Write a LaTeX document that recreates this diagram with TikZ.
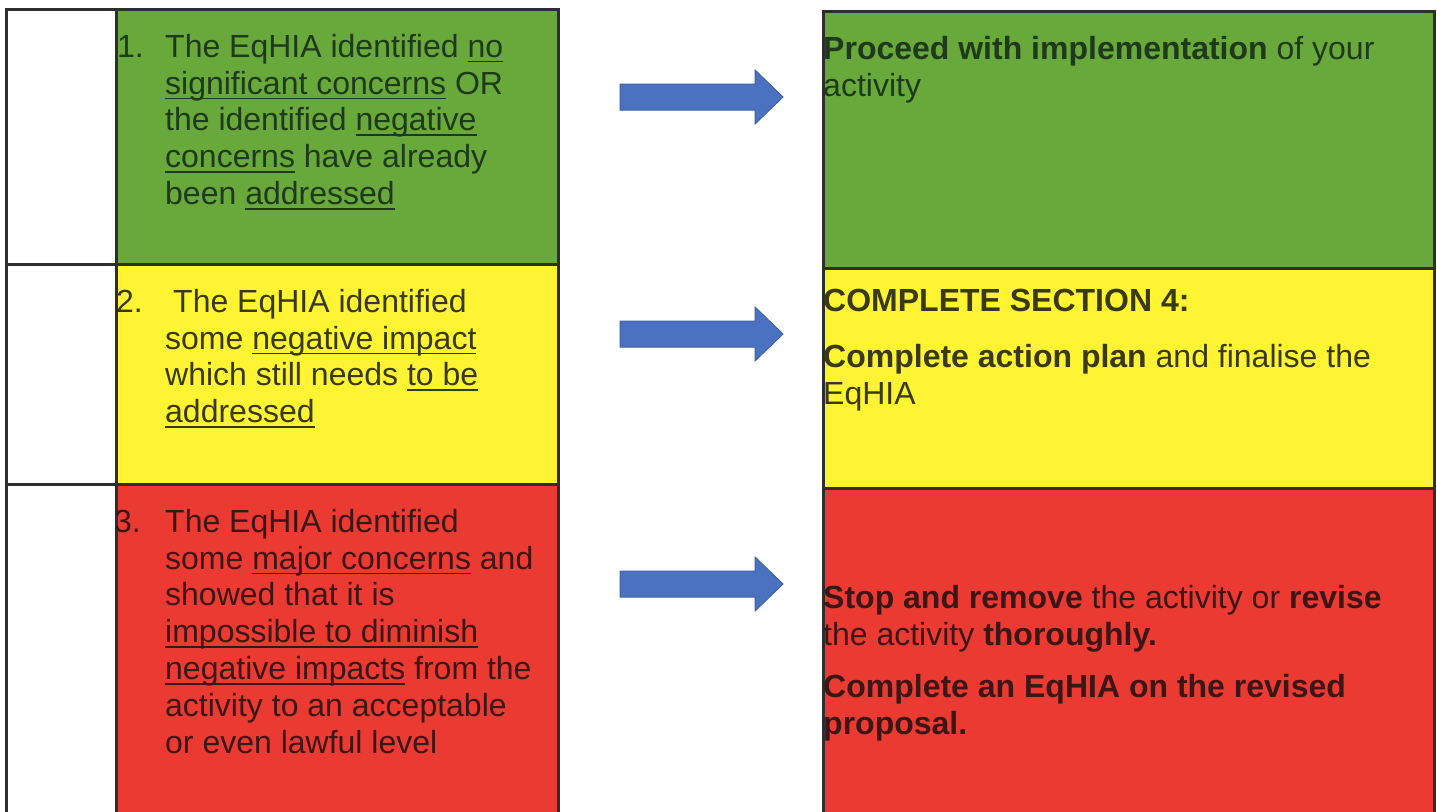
\documentclass[tikz,border=0pt]{standalone}
\usepackage{fontspec}
\setmainfont{Liberation Sans}
\newcommand{\myul}[1]{\setbox0\hbox{#1}\rlap{\rule[-5pt]{\wd0}{1.6pt}}\box0\relax}
\definecolor{cgreen}{HTML}{69A93B}
\definecolor{cyellow}{HTML}{FFF433}
\definecolor{cred}{HTML}{EA3A32}
\definecolor{cborder}{HTML}{2E2E2E}
\definecolor{tgreen}{HTML}{1E3A1A}
\definecolor{tyellow}{HTML}{3A3A10}
\definecolor{tred}{HTML}{3C1616}
\definecolor{arrfill}{HTML}{4A72C0}
\definecolor{arrdraw}{HTML}{3F62A8}
\tikzset{
  cell/.style={draw=cborder, line width=2.6pt, anchor=north west, inner sep=0pt},
  txt/.style={anchor=north west, inner sep=0pt, align=left, font=\fontsize{32}{36.8}\selectfont},
  num/.style={anchor=base west, inner sep=0pt, font=\fontsize{32}{36.8}\selectfont},
  bigarrow/.style={fill=arrfill, draw=arrdraw, line width=1pt}
}
\begin{document}
\begin{tikzpicture}[x=1pt,y=-1pt]
\useasboundingbox (0,0) rectangle (1437,811);
\fill[white] (0,0) rectangle (1437,811);
% left table
\node[cell, fill=white, minimum width=110, minimum height=255] (w1) at (5,8) {};
\node[cell, fill=white, minimum width=110, minimum height=220] (w2) at (5,263) {};
\node[cell, fill=white, minimum width=110, minimum height=335] (w3) at (5,483) {};
\node[cell, fill=cgreen, minimum width=442, minimum height=255] (g1) at (115,8) {};
\node[cell, fill=cyellow, minimum width=442, minimum height=220] (y1) at (115,263) {};
\node[cell, fill=cred, minimum width=442, minimum height=335] (r1) at (115,483) {};
% right boxes
\node[cell, fill=cgreen, minimum width=611, minimum height=257] (g2) at (822,10) {};
\node[cell, fill=cyellow, minimum width=611, minimum height=220] (y2) at (822,267) {};
\node[cell, fill=cred, minimum width=611, minimum height=335] (r2) at (822,487) {};
% arrows
\foreach \n/\c in {a1/97,a2/334,a3/584}{
  \fill[bigarrow] (620,\c-13) -- (755,\c-13) -- (755,\c-27) -- (783,\c) -- (755,\c+27) -- (755,\c+13) -- (620,\c+13) -- cycle;
}
% left texts
\node[num, text=tgreen] (n1) at (117,57) {1.};
\node[txt, text=tgreen] (t1) at (165,34) {The EqHIA identified \myul{no}\\
\myul{significant concerns} OR\\
the identified \myul{negative}\\
\myul{concerns} have already\\
been \myul{addressed}};
\node[num, text=tyellow] (n2) at (116,312) {2.};
\node[txt, text=tyellow] (t2) at (165,289) {\hspace*{8pt}The EqHIA identified\\
some \myul{negative impact}\\
which still needs \myul{to be}\\
\myul{addressed}};
\node[num, text=tred] (n3) at (114,532) {3.};
\node[txt, text=tred] (t3) at (165,509) {The EqHIA identified\\
some \myul{major concerns} and\\
showed that it is\\
\myul{impossible to diminish}\\
\myul{negative impacts} from the\\
activity to an acceptable\\
or even lawful level};
% right texts
\node[txt, text=tgreen] (s1) at (823,36) {\textbf{Proceed with implementation} of your\\
activity};
\node[txt, text=tyellow] (s2) at (823,289) {\textbf{COMPLETE SECTION 4:}\\[19pt]
\textbf{Complete action plan} and finalise the\\
EqHIA};
\node[txt, text=tred] (s3) at (823,585) {\textbf{Stop and remove} the activity or \textbf{revise}\\
the activity \textbf{thoroughly.}\\[16pt]
\textbf{Complete an EqHIA on the revised}\\
\textbf{proposal.}};
\end{tikzpicture}
\end{document}
